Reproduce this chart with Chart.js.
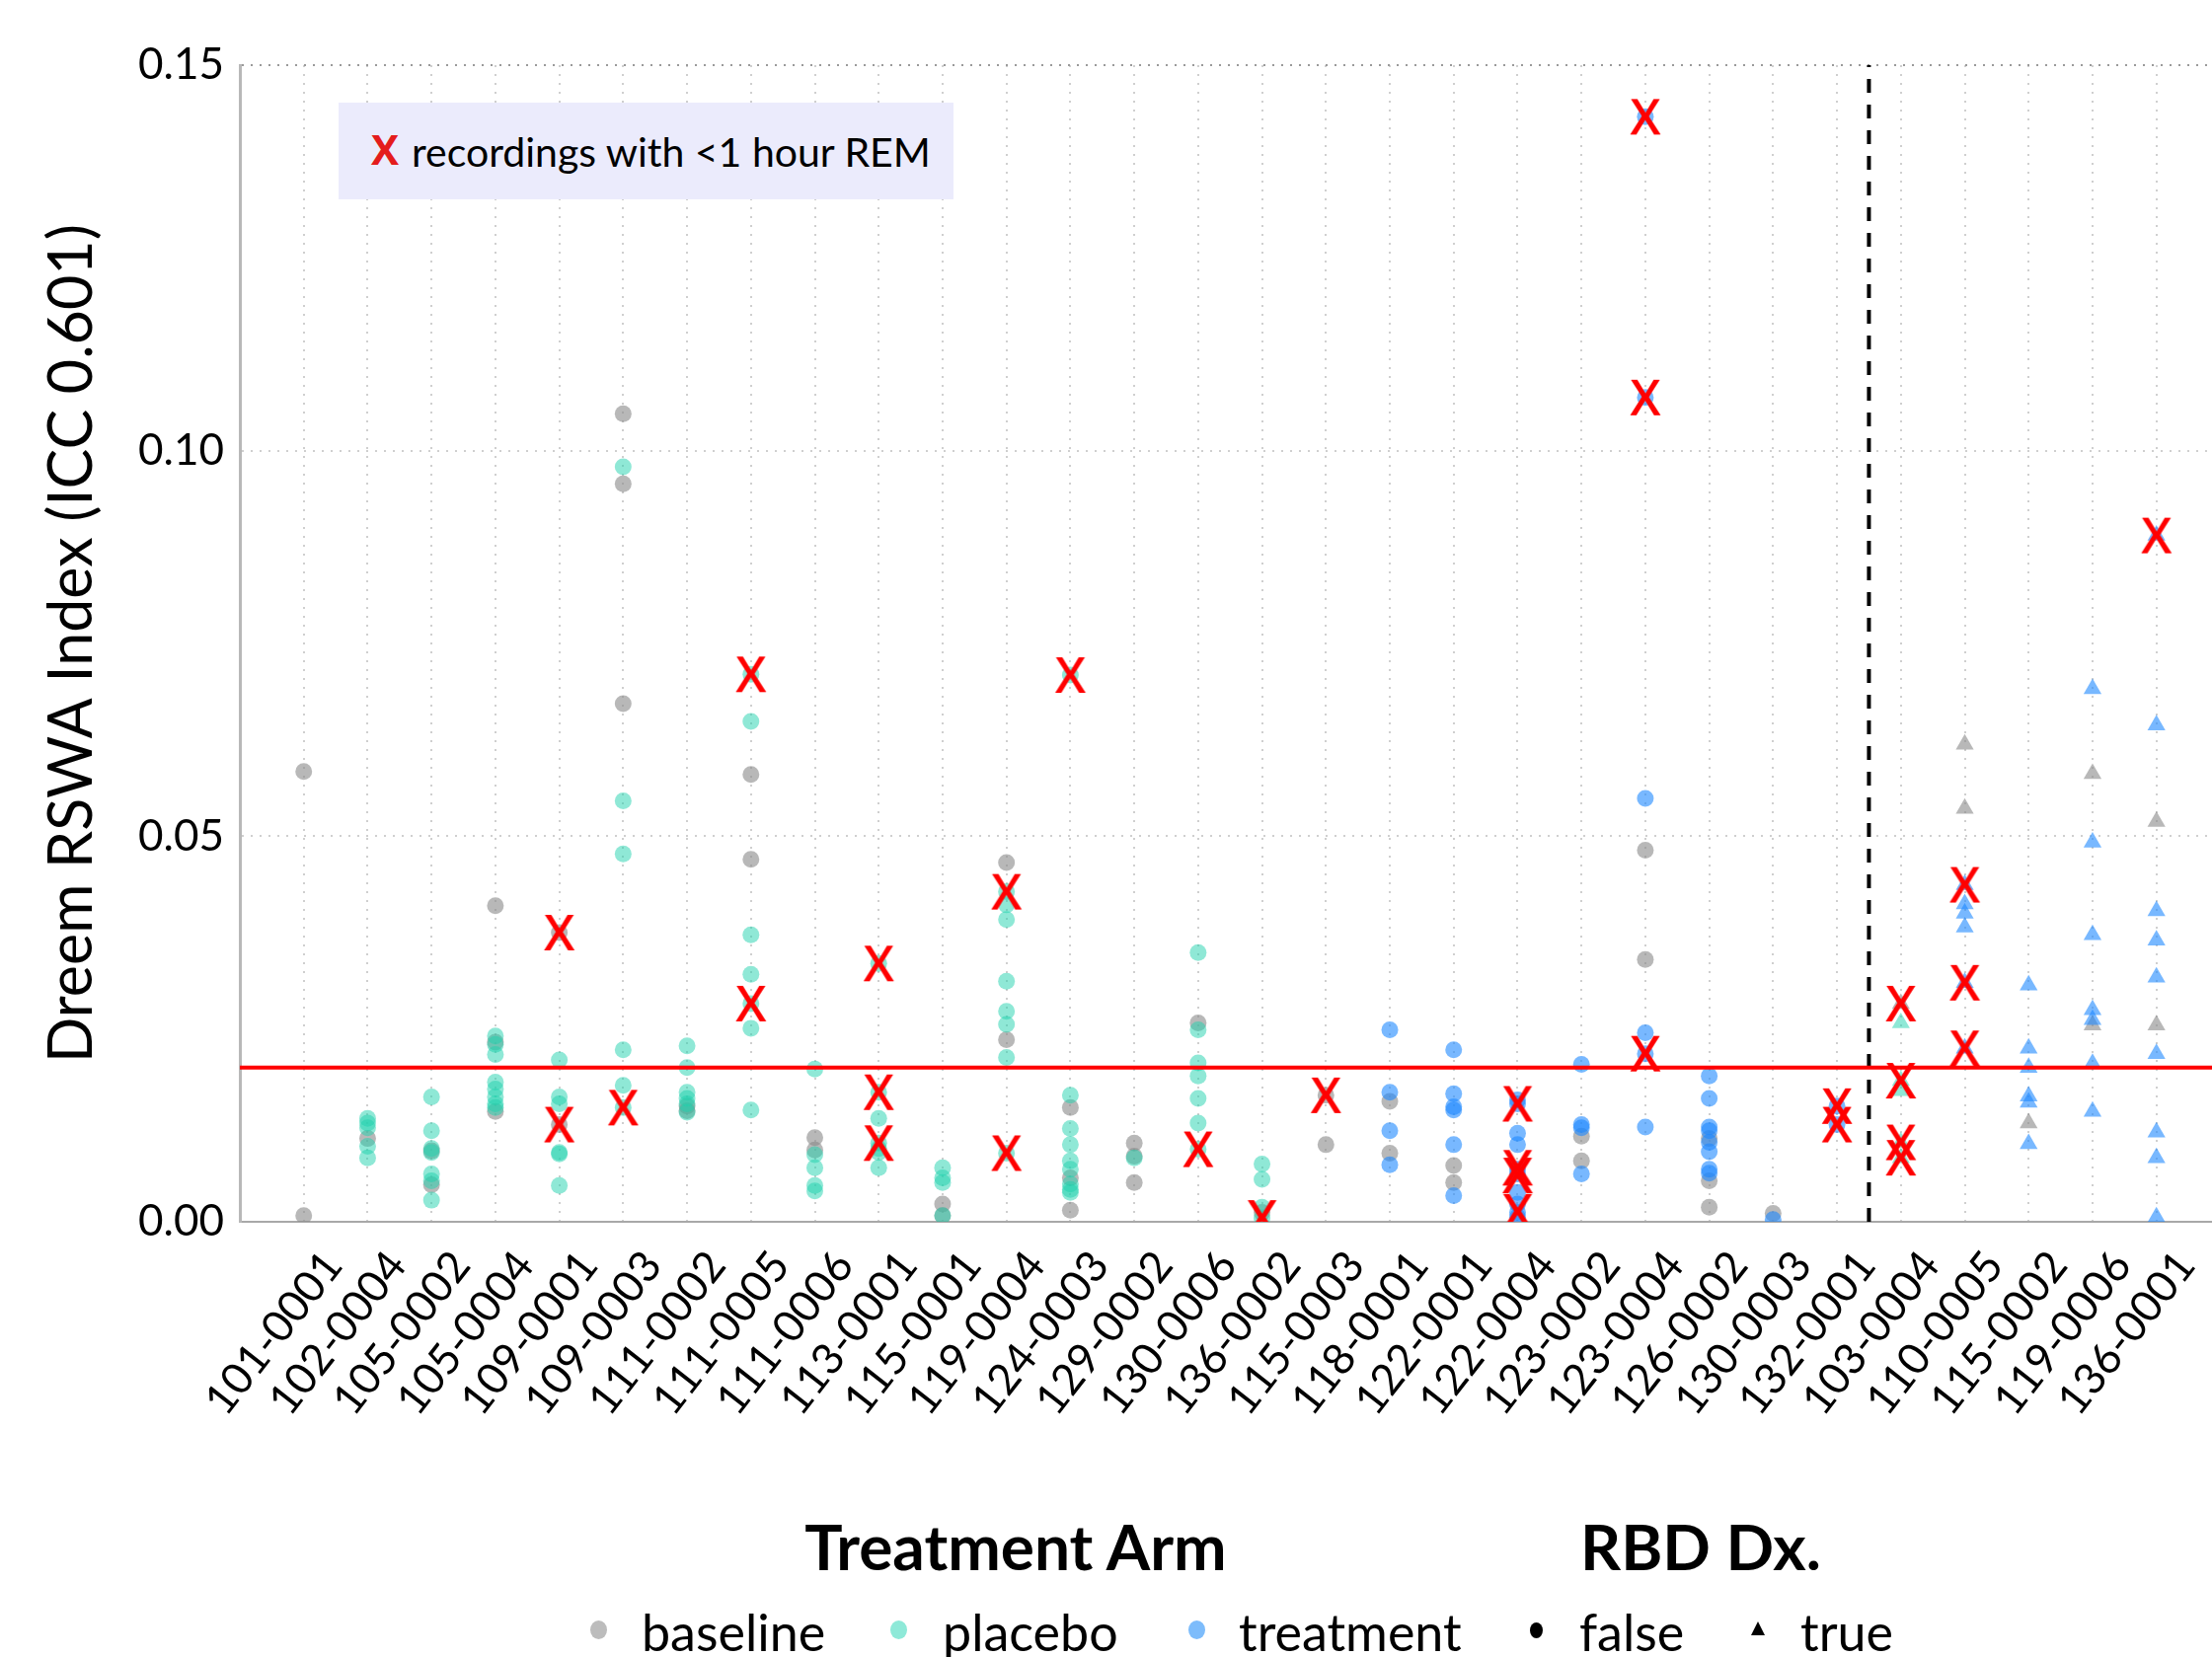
<!DOCTYPE html>
<html>
<head>
<meta charset="utf-8">
<title>Dreem RSWA Index</title>
<script src="https://cdn.jsdelivr.net/npm/chart.js@4/dist/chart.umd.min.js"></script>
<style>
  html, body { margin: 0; padding: 0; background: #fff; }
  #wrap { position: relative; width: 2241px; height: 1679px; font-family: Lato, "Open Sans", sans-serif; color: #000; }
  #c { position: absolute; left: 0; top: 0; }
  .note { position: absolute; left: 343px; top: 104px; width: 623px; height: 98px; background: #ebebfc; }
  .note .x { position: absolute; left: 33px; top: 26px; font: bold 42px "Open Sans", sans-serif; color: #e41c1c; line-height: 1; }
  .note .t { position: absolute; left: 74px; top: 29px; font-size: 41px; line-height: 1; }
  .lg-title { position: absolute; top: 1535px; font-weight: bold; font-size: 64px; line-height: 1; transform: translateX(-50%); }
  .lg-item { position: absolute; top: 1627px; font-size: 52px; line-height: 1; }
  .dot { position: absolute; width: 17px; height: 19px; border-radius: 50%; }
</style>
</head>
<body>
<div id="wrap">
  <canvas id="c" width="2241" height="1679"></canvas>
  <div class="note"><span class="x">X</span><span class="t">recordings with &lt;1 hour REM</span></div>

  <div class="lg-title" style="left:1029px">Treatment Arm</div>
  <div class="lg-title" style="left:1723px">RBD Dx.</div>

  <div class="dot" style="left:598px; top:1642px; background:#bcbcbc"></div>
  <div class="lg-item" style="left:650px">baseline</div>
  <div class="dot" style="left:902px; top:1642px; background:#8ee9d8"></div>
  <div class="lg-item" style="left:955px">placebo</div>
  <div class="dot" style="left:1204px; top:1642px; background:#7dbcfb"></div>
  <div class="lg-item" style="left:1255px">treatment</div>
  <div class="dot" style="left:1550px; top:1644px; width:13px; height:16px; background:#000"></div>
  <div class="lg-item" style="left:1600px">false</div>
  <div style="position:absolute; left:1774px; top:1643px; width:0; height:0; border-left:7px solid transparent; border-right:7px solid transparent; border-bottom:14px solid #000"></div>
  <div class="lg-item" style="left:1824px">true</div>
</div>

<script>
// subjects along the x axis
const subjects = ['101-0001', '102-0004', '105-0002', '105-0004', '109-0001', '109-0003',
  '111-0002', '111-0005', '111-0006', '113-0001', '115-0001', '119-0004', '124-0003',
  '129-0002', '130-0006', '136-0002', '115-0003', '118-0001', '122-0001', '122-0004',
  '123-0002', '123-0004', '126-0002', '130-0003', '132-0001', '103-0004', '110-0005',
  '115-0002', '119-0006', '136-0001'];

// RBD diagnosis per subject (true -> triangle)
const rbdDx = subjects.map((s, i) => i >= 25);

// RSWA index per subject, one array per treatment arm
const baselineVals = [
  [0.0584, 0.0008], [0.0108], [0.0092, 0.0048], [0.0410, 0.0233, 0.0143], [0.0375, 0.0126],
  [0.1048, 0.0957, 0.0672], [0.0150, 0.0144], [0.0580, 0.0470], [0.0109, 0.0093], [],
  [0.0023, 0.0008], [0.0466, 0.0236], [0.0148, 0.0057, 0.0015], [0.0102, 0.0085, 0.0051], [0.0258],
  [0.0012], [0.0164, 0.0100], [0.0156, 0.0089], [0.0073, 0.0051], [],
  [0.0111, 0.0079], [0.0482, 0.0340], [0.0108, 0.0053, 0.0019], [0.0011], [],
  [0.0283], [0.0619, 0.0536], [0.0128], [0.0581, 0.0255], [0.0519, 0.0255]
];
const placeboVals = [
  [], [0.0134, 0.0128, 0.0122, 0.0098, 0.0083],
  [0.0162, 0.0118, 0.0095, 0.0090, 0.0062, 0.0053, 0.0028],
  [0.0241, 0.0230, 0.0217, 0.0181, 0.0172, 0.0162, 0.0153, 0.0148],
  [0.0210, 0.0162, 0.0153, 0.0090, 0.0088, 0.0047],
  [0.0979, 0.0546, 0.0477, 0.0223, 0.0177, 0.0148],
  [0.0228, 0.0200, 0.0168, 0.0160, 0.0153, 0.0142],
  [0.0710, 0.0649, 0.0372, 0.0321, 0.0283, 0.0251, 0.0145],
  [0.0198, 0.0087, 0.0070, 0.0047, 0.0040],
  [0.0335, 0.0168, 0.0134, 0.0102, 0.0095, 0.0090, 0.0070],
  [0.0070, 0.0057, 0.0051, 0.0008],
  [0.0428, 0.0411, 0.0392, 0.0312, 0.0273, 0.0256, 0.0213, 0.0089],
  [0.0709, 0.0164, 0.0121, 0.0100, 0.0079, 0.0068, 0.0049, 0.0042, 0.0038],
  [0.0083],
  [0.0349, 0.0249, 0.0206, 0.0189, 0.0160, 0.0128, 0.0094],
  [0.0075, 0.0055, 0.0019, 0.0005],
  [], [], [], [], [], [], [], [], [],
  [0.0258, 0.0183, 0.0170, 0.0103, 0.0083],
  [], [], [], []
];
const treatmentVals = [
  [], [], [], [], [], [], [], [], [], [], [], [], [], [], [], [], [],
  [0.0249, 0.0168, 0.0118, 0.0074],
  [0.0223, 0.0166, 0.0149, 0.0145, 0.0100, 0.0034],
  [0.0158, 0.0153, 0.0115, 0.0100, 0.0068, 0.0062, 0.0038, 0.0023, 0.0012, 0.0006],
  [0.0204, 0.0126, 0.0122, 0.0062],
  [0.1433, 0.1069, 0.0549, 0.0245, 0.0218, 0.0123],
  [0.0189, 0.0160, 0.0123, 0.0118, 0.0103, 0.0091, 0.0068, 0.0063],
  [0.0003],
  [0.0150, 0.0126],
  [],
  [0.0437, 0.0412, 0.0400, 0.0382, 0.0310, 0.0225],
  [0.0307, 0.0225, 0.0200, 0.0163, 0.0155, 0.0101],
  [0.0691, 0.0492, 0.0372, 0.0275, 0.0262, 0.0205, 0.0143],
  [0.0890, 0.0644, 0.0403, 0.0365, 0.0317, 0.0218, 0.0116, 0.0083, 0.0006]
];
// recordings with <1 hour REM (red X)
const lowRemVals = [
  [], [], [], [], [0.0375, 0.0126], [0.0148], [], [0.0710, 0.0283], [], [0.0335, 0.0168, 0.0102],
  [], [0.0428, 0.0089], [0.0709], [], [0.0094], [0.0005], [0.0164], [], [], [0.0153, 0.0070, 0.0060, 0.0013],
  [], [0.1433, 0.1069, 0.0218], [], [], [0.0150, 0.0126], [0.0283, 0.0183, 0.0103, 0.0083], [0.0437, 0.0310, 0.0225], [], [], [0.0890]
];

const rswaCutoff = 0.02;
const rbdSplit = 24.5;
const yTicks = [0, 0.05, 0.10, 0.15];

function toPoints(vals) {
  const pts = [];
  vals.forEach((arr, i) => arr.forEach(v => pts.push({ x: i, y: v })));
  return pts;
}

// red letter X used as point style
const xMark = document.createElement('canvas');
xMark.width = 36;
xMark.height = 40;
const g = xMark.getContext('2d');
g.fillStyle = '#ff0000';
g.font = '600 50px "Open Sans"';
g.textAlign = 'center';
g.textBaseline = 'alphabetic';
g.fillText('X', 18, 38);

const shape = ctx => rbdDx[ctx.raw.x] ? 'triangle' : 'circle';
const size = ctx => rbdDx[ctx.raw.x] ? 10.5 : 8.5;

function armSet(label, vals, color, order) {
  return {
    type: 'scatter', label, data: toPoints(vals),
    backgroundColor: color, borderWidth: 0,
    pointStyle: shape, pointRadius: size, clip: 0, order
  };
}

const xMin = -1, xMax = 29.87;

new Chart(document.getElementById('c'), {
  data: {
    datasets: [
      { type: 'scatter', label: 'low REM', data: toPoints(lowRemVals), pointStyle: xMark, pointRadius: 17, clip: 0, order: 0 },
      { type: 'line', label: 'cutoff', data: [{ x: xMin, y: rswaCutoff }, { x: xMax, y: rswaCutoff }],
        borderColor: '#ff0000', borderWidth: 4, pointRadius: 0, order: 1 },
      { type: 'line', label: 'split', data: [{ x: rbdSplit, y: 0 }, { x: rbdSplit, y: 0.15 }],
        borderColor: '#000', borderWidth: 4, borderDash: [14, 12], pointRadius: 0, order: 1 },
      armSet('treatment', treatmentVals, 'rgba(30,136,255,0.6)', 2),
      armSet('placebo', placeboVals, 'rgba(31,209,173,0.5)', 3),
      armSet('baseline', baselineVals, 'rgba(136,136,136,0.6)', 4)
    ]
  },
  options: {
    responsive: false,
    animation: false,
    devicePixelRatio: 1,
    layout: { autoPadding: false, padding: { top: 66, right: 0, bottom: 0, left: 0 } },
    plugins: { legend: { display: false }, tooltip: { enabled: false } },
    scales: {
      x: {
        type: 'linear', min: xMin, max: xMax,
        afterBuildTicks: s => { s.ticks = subjects.map((n, i) => ({ value: i })); },
        afterFit: s => { s.height = 441; s.paddingLeft = 0; s.paddingRight = 0; },
        ticks: {
          autoSkip: false, minRotation: 52, maxRotation: 52, padding: 20, labelOffset: 30,
          color: '#000', font: { family: 'Lato', size: 44 },
          callback: v => subjects[v]
        },
        grid: { color: '#cfcfcf', lineWidth: 2, drawTicks: false },
        border: { color: '#a8a8a8', width: 2, dash: [2, 7] }
      },
      y: {
        min: 0, max: 0.15,
        afterBuildTicks: s => { s.ticks = yTicks.map(v => ({ value: v })); },
        afterFit: s => { s.width = 243; },
        ticks: {
          padding: 16, color: '#000', font: { family: 'Lato', size: 44 },
          callback: v => v.toFixed(2)
        },
        title: {
          display: true, text: 'Dreem RSWA Index (ICC 0.601)', color: '#000',
          font: { family: 'Lato', size: 61 }, padding: { top: 37, bottom: 0 }
        },
        grid: { color: c => c.tick && c.tick.value === 0.15 ? '#9a9a9a' : '#cfcfcf', lineWidth: 2, drawTicks: false },
        border: { color: '#b8b8b8', width: 3, dash: [2, 7] }
      }
    }
  }
});
</script>
</body>
</html>
